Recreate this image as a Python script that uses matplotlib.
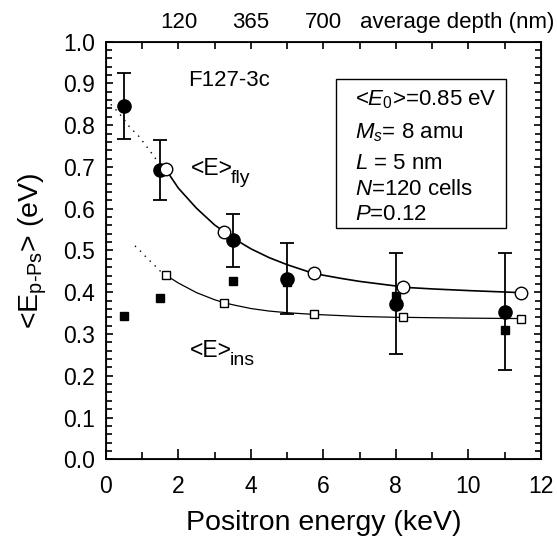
import numpy as np
import matplotlib.pyplot as plt
from matplotlib.ticker import MultipleLocator, FixedLocator

plt.rcParams['font.family'] = ['Liberation Sans', 'DejaVu Sans']
plt.rcParams['mathtext.fontset'] = 'custom'
plt.rcParams['mathtext.rm'] = 'Liberation Sans'
plt.rcParams['mathtext.it'] = 'Liberation Sans:italic'

# measured <E> with error bars (filled circles)
e_meas = [0.5, 1.5, 3.5, 5.0, 8.0, 11.0]
E_meas = [0.845, 0.693, 0.525, 0.432, 0.373, 0.352]
E_lo = [0.766, 0.622, 0.461, 0.349, 0.253, 0.213]
E_hi = [0.926, 0.765, 0.588, 0.518, 0.493, 0.493]

# second measured set (filled squares)
E_sq = [0.344, 0.387, 0.427, 0.425, 0.392, 0.310]

# model points
e_model = [1.65, 3.26, 5.73, 8.19, 11.46]
E_fly = [0.694, 0.545, 0.445, 0.412, 0.399]
E_ins = [0.441, 0.375, 0.347, 0.340, 0.337]

# model curves
e_curve = [1.65, 2.0, 2.5, 3.0, 3.26, 3.5, 4.0, 4.5, 5.0, 5.73, 6.5, 7.0, 8.0, 8.19, 9.0, 10.0, 11.46]
fly_curve = [0.694, 0.649, 0.601, 0.561, 0.545, 0.530, 0.504, 0.483, 0.466, 0.445,
             0.433, 0.426, 0.415, 0.412, 0.408, 0.404, 0.399]
ins_curve = [0.441, 0.422, 0.399, 0.382, 0.375, 0.370, 0.361, 0.355, 0.351, 0.347,
             0.344, 0.342, 0.340, 0.340, 0.339, 0.338, 0.337]

# dotted extrapolations
e_fly_dot = [0.0, 0.36, 0.64, 0.91, 1.19, 1.46, 1.65]
fly_dot = [0.862, 0.829, 0.797, 0.773, 0.741, 0.709, 0.694]
e_ins_dot = [0.80, 0.98, 1.14, 1.31, 1.48, 1.65]
ins_dot = [0.511, 0.496, 0.481, 0.467, 0.452, 0.441]

top_ticks = [2, 4, 6]
top_labels = ['120', '365', '700']

fig = plt.figure(figsize=(5.57, 5.41), dpi=100)
ax = fig.add_axes([0.1903, 0.151, 0.7805, 0.772])

ax.plot(e_fly_dot, fly_dot, color='black', lw=1.0, linestyle=(0, (1, 4)))
ax.plot(e_ins_dot, ins_dot, color='black', lw=1.0, linestyle=(0, (1, 4)))
ax.plot(e_curve, fly_curve, '-', color='black', lw=1.2)
ax.plot(e_curve, ins_curve, '-', color='black', lw=0.9)

yerr = [np.array(E_meas) - np.array(E_lo), np.array(E_hi) - np.array(E_meas)]
ax.errorbar(e_meas, E_meas, yerr=yerr, fmt='none', ecolor='black', elinewidth=1.3,
            capsize=5, capthick=1.3, zorder=3)
ax.plot(e_meas, E_sq, 's', color='black', ms=6, zorder=3)
ax.plot(e_meas, E_meas, 'o', color='black', ms=9.5, zorder=4)
ax.plot(e_model, E_fly, 'o', mfc='white', mec='black', mew=1.0, ms=9, zorder=5)
ax.plot(e_model, E_ins, 's', mfc='white', mec='black', mew=1.0, ms=6, zorder=5)

ax.set_xlim(0, 12)
ax.set_ylim(0, 1.0)
ax.xaxis.set_major_locator(MultipleLocator(2))
ax.xaxis.set_minor_locator(MultipleLocator(1))
ax.yaxis.set_major_locator(MultipleLocator(0.1))
ax.yaxis.set_minor_locator(MultipleLocator(0.02))
ax.yaxis.set_major_formatter(plt.FuncFormatter(lambda v, p: f'{v:.1f}'))

ax.tick_params(axis='both', which='both', direction='in', width=1.2)
ax.tick_params(axis='x', which='major', length=7, pad=11, labelsize=16.5)
ax.tick_params(axis='x', which='minor', length=5)
ax.tick_params(axis='y', which='major', length=5, pad=8, labelsize=16.5, right=True)
ax.tick_params(axis='y', which='minor', length=4, right=True)
for s in ax.spines.values():
    s.set_linewidth(1.3)

ax2 = ax.twiny()
ax2.set_xlim(0, 12)
ax2.xaxis.set_major_locator(FixedLocator(top_ticks))
ax2.set_xticklabels(top_labels)
ax2.xaxis.set_minor_locator(MultipleLocator(1))
ax2.tick_params(axis='x', which='both', direction='in', length=5, width=1.2, pad=6, labelsize=16)
fig.text(0.996, 0.959, 'average depth (nm)', ha='right', va='center', fontsize=16)

ax.set_xlabel('Positron energy (keV)', fontsize=20.5, labelpad=9)
ax.set_ylabel(r'<E$_{\mathrm{p\text{-}Ps}}$> (eV)', fontsize=20.5, labelpad=10)

ax.text(2.27, 0.908, 'F127-3c', fontsize=16, va='center')

# <E>fly and <E>ins labels, subscript drawn as its own smaller text
ax.text(2.34, 0.681, '<E>', fontsize=16.5, va='baseline')
ax.text(3.44, 0.662, 'fly', fontsize=14, va='baseline')
ax.text(2.32, 0.246, '<E>', fontsize=16.5, va='baseline')
ax.text(3.42, 0.227, 'ins', fontsize=14, va='baseline')

ax.add_patch(plt.Rectangle((6.36, 0.553), 4.68, 0.357, fill=False, ec='black', lw=1.0, zorder=2))
box_lines = [r'<$E_0$>=0.85 eV', r'$M_s$= 8 amu', r'$L$ = 5 nm', r'$N$=120 cells', r'$P$=0.12']
box_y = [0.848, 0.769, 0.694, 0.633, 0.573]
for txt, yy in zip(box_lines, box_y):
    ax.text(6.88, yy, txt, fontsize=16, va='baseline')

fig.savefig('out.png', dpi=100)
